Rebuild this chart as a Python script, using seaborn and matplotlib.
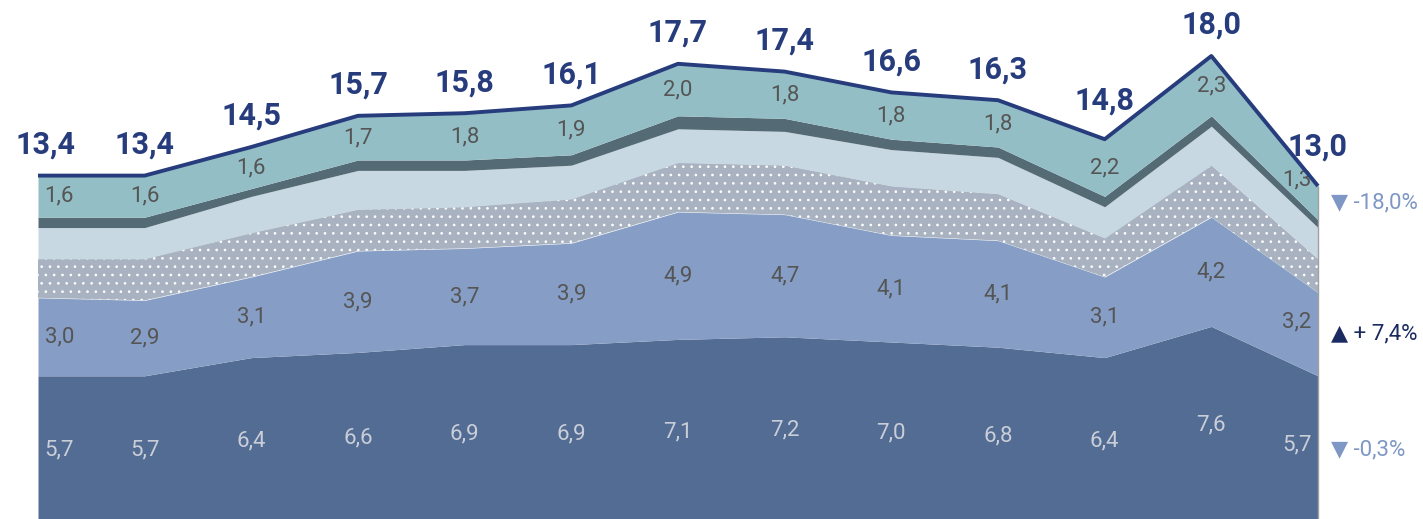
import matplotlib
matplotlib.use("Agg")
import matplotlib.pyplot as plt
import numpy as np
import pandas as pd
import seaborn as sns

# values
totals = [13.4, 13.4, 14.5, 15.7, 15.8, 16.1, 17.7, 17.4, 16.6, 16.3, 14.8, 18.0, 13.0]
bottom = [5.7, 5.7, 6.4, 6.6, 6.9, 6.9, 7.1, 7.2, 7.0, 6.8, 6.4, 7.6, 5.7]
second = [3.0, 2.9, 3.1, 3.9, 3.7, 3.9, 4.9, 4.7, 4.1, 4.1, 3.1, 4.2, 3.2]
dotted = [1.5, 1.6, 1.7, 1.6, 1.6, 1.7, 1.9, 1.9, 1.9, 1.8, 1.5, 2.0, 1.3]
light = [1.2, 1.2, 1.4, 1.5, 1.4, 1.3, 1.3, 1.3, 1.4, 1.4, 1.2, 1.5, 1.2]
dark = [0.4, 0.4, 0.3, 0.4, 0.4, 0.4, 0.5, 0.5, 0.4, 0.4, 0.4, 0.4, 0.3]
teal = [1.6, 1.6, 1.6, 1.7, 1.8, 1.9, 2.0, 1.8, 1.8, 1.8, 2.2, 2.3, 1.3]

changes = ["-18,0%", "+ 7,4%", "-0,3%"]
change_up = [False, True, False]

sns.set_theme(style="white")
plt.rcParams["font.family"] = ["Roboto", "DejaVu Sans"]
plt.rcParams["hatch.linewidth"] = 0.7

x = np.arange(len(totals))
df = pd.DataFrame({"x": x, "total": totals})

# (values, colour, hatch, label colour or None)
layers = [
    (bottom, "#536c93", None, "#c9ced8"),
    (second, "#869ec6", None, "#555555"),
    (dotted, "#a9b2c0", "..", None),
    (light, "#c8d8e3", None, None),
    (dark, "#546b75", None, None),
    (teal, "#93bec5", None, "#555555"),
]

fig = plt.figure(figsize=(14.23, 5.19), dpi=100)
ax = fig.add_axes([0, 0, 1, 1])

px_x = 1280 / 12
ax.set_xlim(-38 / px_x, 12 + 105 / px_x)
ax.set_ylim(5 / 26, 524 / 26)
ax.set_axis_off()

base = np.zeros(len(x))
bounds = []
for vals, color, hatch, lab in layers:
    top = base + np.array(vals)
    if hatch:
        ax.fill_between(x, base, top, facecolor=color, edgecolor="white",
                        hatch=hatch, linewidth=0)
    else:
        ax.fill_between(x, base, top, color=color, linewidth=0)
    bounds.append((base.copy(), top.copy(), vals, lab))
    base = top

ax.vlines(x[-1], 0, totals[-1], color="#a0a0a0", lw=1, zorder=3)

# labels inside the layers
for lo, hi, vals, lab in bounds:
    if lab is None:
        continue
    for i, v in enumerate(vals):
        lx = i
        if i == 0:
            lx = 0.2
        elif i == len(vals) - 1:
            lx = len(vals) - 1.2
        ly = (np.interp(lx, x, lo) + np.interp(lx, x, hi)) / 2
        ax.text(lx, ly, f"{v:.1f}".replace(".", ","), ha="center", va="center",
                fontsize=16, color=lab)

sns.lineplot(data=df, x="x", y="total", ax=ax, color="#263c7c", lw=2.8,
             solid_capstyle="butt", zorder=4)

n = len(totals)
for i, t in enumerate(totals):
    dip = i == n - 1 or (0 < i < n - 1 and totals[i - 1] > t and totals[i + 1] > t)
    ax.annotate(f"{t:.1f}".replace(".", ","), (i, t),
                xytext=(8 if i == 0 else 0, 39 if dip else 31),
                textcoords="offset pixels",
                ha="center", va="center", fontsize=22, fontweight="bold",
                color="#263c7c")

# change indicators on the right
for (lo, hi, vals, lab), txt, up in zip([bounds[5], bounds[1], bounds[0]],
                                        changes, change_up):
    ly = (lo[-1] + hi[-1]) / 2
    col = "#1b2a60" if up else "#7f97c4"
    mark = "▲" if up else "▼"
    ax.text(x[-1] + 0.12, ly, f"{mark} {txt}", ha="left", va="center",
            fontsize=16, color=col)

fig.savefig("out.png", dpi=100)
